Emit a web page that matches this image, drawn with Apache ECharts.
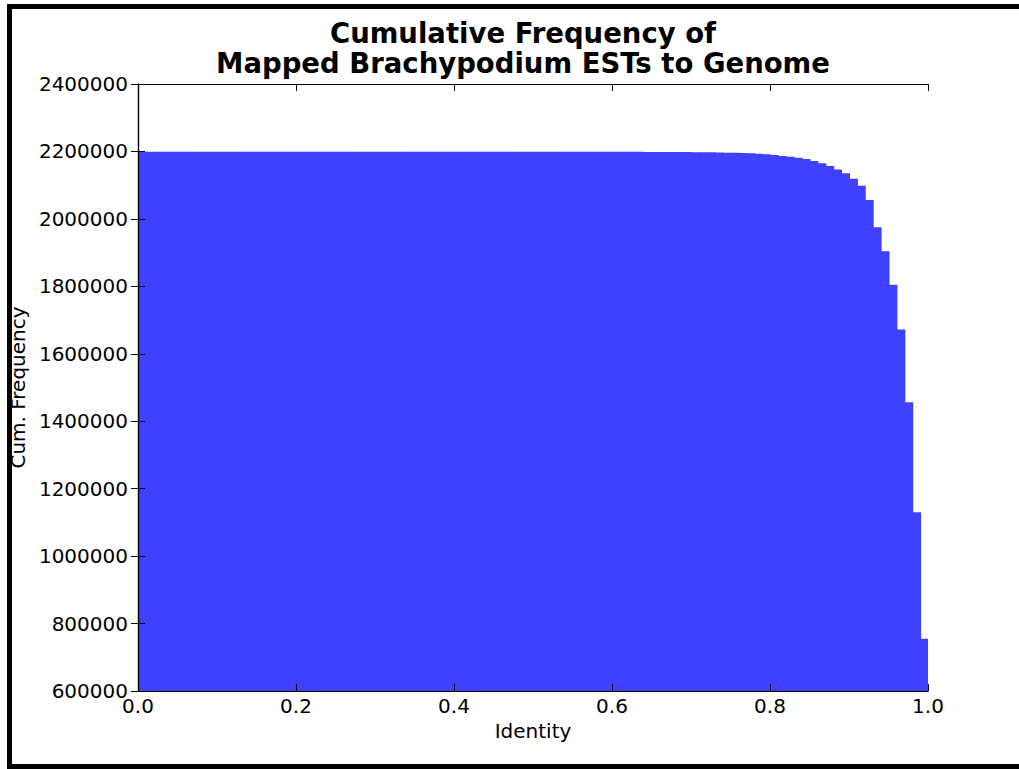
<!DOCTYPE html>
<html>
<head>
<meta charset="utf-8">
<script src="https://cdn.jsdelivr.net/npm/echarts@6/dist/echarts.min.js"></script>
<style>
html,body{margin:0;padding:0;background:#fff;}
#chart{width:1019px;height:769px;}
</style>
</head>
<body>
<div id="chart"></div>
<script>
// Histogram bins: 100 bins on identity [0, 1]
const binCount = 100;
const binMin = 0.0;
const binMax = 1.0;

// Cumulative frequency per bin (count of ESTs with identity >= bin start)
const cumFrequency = [
  2199000, 2199000, 2199000, 2199000, 2199000, 2199000, 2199000, 2199000, 2199000, 2199000,
  2199000, 2199000, 2199000, 2199000, 2199000, 2199000, 2199000, 2199000, 2199000, 2199000,
  2199000, 2199000, 2199000, 2199000, 2199000, 2199000, 2199000, 2199000, 2199000, 2199000,
  2199000, 2199000, 2199000, 2199000, 2199000, 2199000, 2199000, 2199000, 2199000, 2199000,
  2199000, 2199000, 2199000, 2199000, 2199000, 2199000, 2199000, 2199000, 2199000, 2199000,
  2199000, 2199000, 2199000, 2199000, 2199000, 2199000, 2199000, 2199000, 2199000, 2199000,
  2198900, 2198900, 2198800, 2198800, 2198700, 2198600, 2198500, 2198400, 2198300, 2198100,
  2197900, 2197600, 2197300, 2196900, 2196400, 2195900, 2195300, 2194500, 2193500, 2191900,
  2189500, 2186800, 2184300, 2181300, 2177800, 2172000, 2165200, 2157000, 2146500, 2135500,
  2119000, 2098000, 2056000, 1975000, 1904000, 1805000, 1672000, 1456000, 1130000, 755000
];

const yMin = 600000, yMax = 2400000, yInterval = 200000;
const yTickLabels = ['600000','800000','1000000','1200000','1400000','1600000','1800000','2000000','2200000','2400000'];
const xMin = 0, xMax = 1, xInterval = 0.2;
const xTickLabels = ['0.0','0.2','0.4','0.6','0.8','1.0'];

const titleText = 'Cumulative Frequency of\nMapped Brachypodium ESTs to Genome';
const xName = 'Identity';
const yName = 'Cum. Frequency';

const binWidth = (binMax - binMin) / binCount;
const barData = cumFrequency.map((v, i) => [binMin + i * binWidth, binMin + (i + 1) * binWidth, v]);

const FONT = 'DejaVu Sans';
const chart = echarts.init(document.getElementById('chart'), null, {renderer: 'svg'});

const yLabelFmt = v => yTickLabels[Math.round((v - yMin) / yInterval)] ?? String(v);
const xLabelFmt = v => xTickLabels[Math.round((v - xMin) / xInterval)] ?? String(v);

const tickStyle = {show: true, inside: true, length: 7, lineStyle: {color: '#000', width: 1}};
const lineStyleAxis = {show: true, lineStyle: {color: '#000', width: 1.2}};

chart.setOption({
  animation: false,
  backgroundColor: '#fff',
  title: {
    text: titleText,
    left: 518,
    top: 13,
    textAlign: 'center',
    textStyle: {fontFamily: FONT, fontSize: 27.5, fontWeight: 'bold', color: '#000', lineHeight: 30}
  },
  grid: {left: 138, right: 91, top: 84, bottom: 78, containLabel: false},
  xAxis: [{
    type: 'value', min: xMin, max: xMax, interval: xInterval, position: 'bottom', z: 10,
    name: xName, nameLocation: 'middle', nameGap: 30,
    nameTextStyle: {fontFamily: FONT, fontSize: 20, color: '#000'},
    axisLine: lineStyleAxis, axisTick: tickStyle, splitLine: {show: false},
    axisLabel: {fontFamily: FONT, fontSize: 20, color: '#000', margin: 5, formatter: xLabelFmt}
  }, {
    type: 'value', min: xMin, max: xMax, interval: xInterval, position: 'top', z: 10,
    axisLine: lineStyleAxis, axisTick: tickStyle, splitLine: {show: false},
    axisLabel: {show: false}
  }],
  yAxis: [{
    type: 'value', min: yMin, max: yMax, interval: yInterval, position: 'left', z: 10,
    name: yName, nameLocation: 'middle', nameGap: 107, nameRotate: 90,
    nameTextStyle: {fontFamily: FONT, fontSize: 20, color: '#000'},
    axisLine: lineStyleAxis, axisTick: tickStyle, splitLine: {show: false},
    axisLabel: {fontFamily: FONT, fontSize: 20, color: '#000', margin: 10, formatter: yLabelFmt}
  }, {
    type: 'value', min: yMin, max: yMax, interval: yInterval, position: 'right', z: 10,
    axisLine: lineStyleAxis, axisTick: tickStyle, splitLine: {show: false},
    axisLabel: {show: false}
  }],
  series: [{
    type: 'custom',
    xAxisIndex: 0, yAxisIndex: 0,
    clip: true,
    data: barData,
    encode: {x: [0, 1], y: 2},
    renderItem: function (params, api) {
      const p0 = api.coord([api.value(0), api.value(2)]);
      const p1 = api.coord([api.value(1), yMin]);
      const extra = params.dataIndex < binCount - 1 ? 1 : 0;
      return {
        type: 'rect',
        shape: {x: p0[0], y: p0[1], width: p1[0] - p0[0] + extra, height: p1[1] - p0[1]},
        style: {fill: '#4040ff', stroke: null}
      };
    }
  }],
  graphic: [
    {type: 'rect', shape: {x: 7, y: 4, width: 1012, height: 5}, style: {fill: '#000'}},
    {type: 'rect', shape: {x: 7, y: 4, width: 5, height: 765}, style: {fill: '#000'}},
    {type: 'rect', shape: {x: 7, y: 764, width: 1012, height: 5}, style: {fill: '#000'}}
  ]
});
</script>
</body>
</html>
